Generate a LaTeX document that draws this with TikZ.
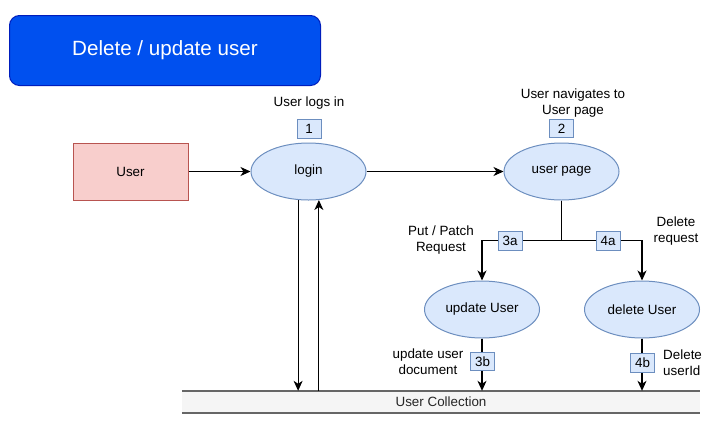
\documentclass[tikz,border=0pt]{standalone}
\usepackage{fontspec}
\setmainfont{Liberation Sans}
\usetikzlibrary{shapes.geometric,arrows.meta,calc}
\definecolor{titlefill}{HTML}{0050EF}
\definecolor{titledraw}{HTML}{001DBC}
\definecolor{redfill}{HTML}{F8CECC}
\definecolor{reddraw}{HTML}{B85450}
\definecolor{bluefill}{HTML}{DAE8FC}
\definecolor{bluedraw}{HTML}{6C8EBF}
\definecolor{collfill}{HTML}{F5F5F5}
\definecolor{colldraw}{HTML}{666666}
\tikzset{
  fnt/.style={font=\fontsize{13.4}{15.5}\selectfont},
  txt/.style={fnt, align=center, inner sep=0pt},
  proc/.style={ellipse, draw=bluedraw, fill=bluefill, line width=1pt, minimum width=115pt, minimum height=57pt, inner sep=0pt, fnt},
  numbox/.style={rectangle, draw=bluedraw, fill=bluefill, line width=1pt, minimum width=24pt, minimum height=18.5pt, inner sep=0pt, fnt},
  arr/.style={line width=1.1pt, -{Stealth[length=10pt,width=9pt,inset=3pt]}},
  ln/.style={line width=1.1pt},
}
\begin{document}
\begin{tikzpicture}[x=1pt,y=-1pt]
\useasboundingbox (0,0) rectangle (714,426);
% title
\node[rectangle, rounded corners=10pt, draw=titledraw, fill=titlefill, line width=1pt, minimum width=311pt, minimum height=70pt, text=white, font=\fontsize{20.6}{24}\selectfont] (title) at (165,50.5) {Delete / update user};
% nodes
\node[rectangle, draw=reddraw, fill=redfill, line width=1pt, minimum width=115pt, minimum height=57pt, fnt] (user) at (130.5,171.5) {User};
\node[proc] (login) at (308.5,171.5) {login};
\node[proc] (upage) at (561.5,171.5) {user page};
\node[proc] (upd) at (482,309.5) {update User};
\node[proc] (del) at (642,309.5) {delete User};
% collection
\node[rectangle, fill=collfill, minimum width=518pt, minimum height=22pt, inner sep=0pt, text=black!85, fnt] (coll) at (441,402) {User Collection};
\draw[colldraw, line width=1.5pt] (coll.north west) -- (coll.north east);
\draw[colldraw, line width=1.5pt] (coll.south west) -- (coll.south east);
% labels
\node[txt] (l1) at (309,103) {User logs in};
\node[txt] (l2) at (573,103) {User navigates to\\User page};
\node[txt] (l3a) at (441,240) {Put / Patch\\Request};
\node[txt] (l4a) at (676,231) {Delete\\request};
\node[txt] (l3b) at (428,361.5) {update user\\document};
\node[txt, align=left, anchor=west] (l4b) at (663,362.5) {Delete\\userId};
% connectors
\draw[arr] (user) -- (login);
\draw[arr] (login) -- (upage);
\draw[ln] (upage.south) -- ++(0,40) coordinate (j);
\draw[arr] (j) -| (upd.north);
\draw[arr] (j) -| (del.north);
\draw[arr] (login.250) -- (login.250 |- coll.north);
\draw[arr] (coll.north -| login.290) -- (login.290);
\draw[arr] (upd.south) -- (upd.south |- coll.north);
\draw[arr] (del.south) -- (del.south |- coll.north);
% number boxes
\node[numbox] (n1) at (309,129) {1};
\node[numbox] (n2) at (561.5,128.5) {2};
\node[numbox] (n3a) at (510,241) {3a};
\node[numbox] (n4a) at (608,241) {4a};
\node[numbox] (n3b) at (482.5,361.5) {3b};
\node[numbox] (n4b) at (642.5,363) {4b};
\end{tikzpicture}
\end{document}
